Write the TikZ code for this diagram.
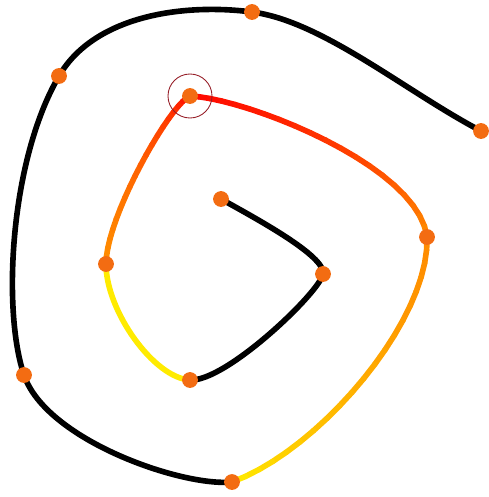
\documentclass[tikz,border=0pt]{standalone}
\usepackage{tikz}
\usetikzlibrary{calc}

\definecolor{dotorange}{RGB}{243,108,18}
\definecolor{curveorange}{RGB}{255,140,0}
\definecolor{curveyellow}{RGB}{255,235,0}
\definecolor{curvered}{RGB}{255,10,0}
\definecolor{ringred}{RGB}{150,30,40}

\begin{document}
\begin{tikzpicture}[
            x=0.02cm, y=-0.02cm,
            dot/.style={circle, fill=dotorange, inner sep=0pt, minimum size=9pt},
            ring/.style={circle, draw=ringred, line width=0.5pt, inner sep=0pt, minimum size=0.88cm},
            curve/.style={line width=3.2pt, line cap=round, line join=round}
        ]
\useasboundingbox (0,0) rectangle (489,497);

% points of the spiral
            \coordinate (p1) at (221,199);
            \coordinate (p2) at (323,274);
            \coordinate (p3) at (190,380);
            \coordinate (p4) at (106,264);
            \coordinate (p5) at (190,96);
            \coordinate (p6) at (427,237);
            \coordinate (p7) at (232,482);
            \coordinate (p8) at (24,375);
            \coordinate (p9) at (59,76);
            \coordinate (p10) at (252,12);
            \coordinate (p11) at (481,131);

% inner black part
            \draw[curve, black] (p1) .. controls +(34,19) and +(3,-18) .. (p2)
                                     .. controls +(-3,18) and +(36,2) .. (p3);

% yellow part
            \draw[curve, curveyellow] (p3) .. controls +(-36,-2) and +(0,47) .. (p4);

% shaded parts, cut into small pieces
            \path (p4) .. controls +(0,-47) and +(-20,8) .. (p5)
                foreach \i in {0,...,20} {coordinate[pos=\i/20] (a\i)};
            \path (p5) .. controls +(55,2) and +(-9,-72) .. (p6)
                foreach \i in {0,...,20} {coordinate[pos=\i/20] (b\i)};
            \path (p6) .. controls +(3,83) and +(88,-32) .. (p7)
                foreach \i in {0,...,20} {coordinate[pos=\i/20] (c\i)};
            \foreach \seg/\cola/\colb in {a/curveorange/curvered, b/curvered/curveorange, c/curveorange/curveyellow}{
                \foreach \i in {1,...,20}{
                    \pgfmathtruncatemacro{\h}{\i-1}
                    \pgfmathtruncatemacro{\k}{100*((\i-0.5)/20)^1.6}
                    \draw[curve, \colb!\k!\cola] (\seg\h) -- (\seg\i);
                }
            }

% outer black part
            \draw[curve, black] (p7) .. controls +(-50,5) and +(22,65) .. (p8)
                                     .. controls +(-22,-65) and +(-49,84) .. (p9)
                                     .. controls +(35,-60) and +(-70,-9) .. (p10)
                                     .. controls +(70,9) and +(-76,-40) .. (p11);

% dots and ring
            \foreach \i in {1,...,11}
                \node[dot] (d\i) at (p\i) {};
            \node[ring] (mark) at (p5) {};

        \end{tikzpicture}
\end{document}
